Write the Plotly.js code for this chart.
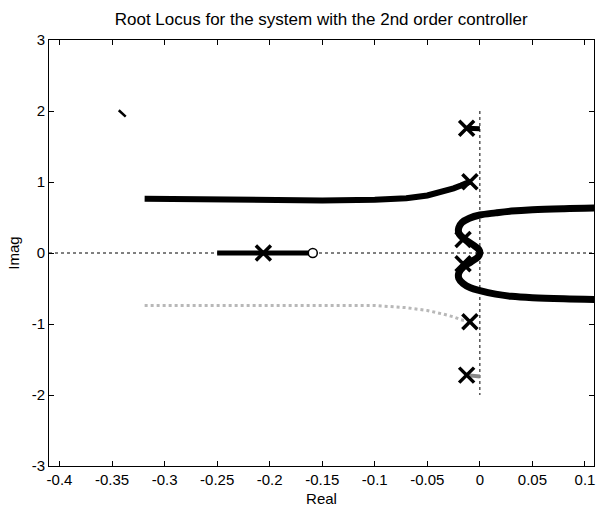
<!DOCTYPE html>
<html>
<head>
<meta charset="utf-8">
<script src="https://cdn.plot.ly/plotly-3.0.1.min.js"></script>
<style>html,body{margin:0;padding:0;background:#fff;}#chart{width:606px;height:507px;}</style>
</head>
<body>
<div id="chart"></div>
<script>
// ---- data ----
var titleText = "Root Locus for the system with the 2nd order controller";
var xTicks = [-0.4, -0.35, -0.3, -0.25, -0.2, -0.15, -0.1, -0.05, 0, 0.05, 0.1];
var xTickLabels = ["-0.4", "-0.35", "-0.3", "-0.25", "-0.2", "-0.15", "-0.1", "-0.05", "0", "0.05", "0.1"];
var yTicks = [-3, -2, -1, 0, 1, 2, 3];
var yTickLabels = ["-3", "-2", "-1", "0", "1", "2", "3"];

// open-loop poles and zero
var poleRe = [-0.206, -0.0126, -0.0095, -0.016, -0.016, -0.0095, -0.0126];
var poleIm = [0, 1.756, 1.004, 0.19, -0.15, -0.968, -1.72];
var zeroRe = [-0.159];
var zeroIm = [0];

// upper complex branch (black)
var upRe = [-0.319, -0.30, -0.25, -0.20, -0.15, -0.10, -0.07, -0.05, -0.035, -0.025, -0.018, -0.0095];
var upIm = [0.765, 0.76, 0.75, 0.74, 0.74, 0.75, 0.77, 0.81, 0.86, 0.91, 0.95, 1.004];
// lower complex branch (grey)
var loRe = [-0.319, -0.30, -0.25, -0.20, -0.15, -0.10, -0.07, -0.05, -0.035, -0.025, -0.018, -0.0095];
var loIm = [-0.74, -0.74, -0.735, -0.73, -0.73, -0.74, -0.77, -0.81, -0.86, -0.90, -0.94, -0.968];
// real-axis segment
var realRe = [-0.250, -0.159];
var realIm = [0, 0];
// S-shaped branch near the imaginary axis
var sRe = [0.115, 0.08, 0.05, 0.03, 0.015, 0.0, -0.01, -0.017, -0.02, -0.02, -0.015, -0.007, -0.001, 0.0, -0.002, -0.009, -0.016, -0.02, -0.02, -0.016, -0.009, 0.0, 0.015, 0.03, 0.05, 0.08, 0.115];
var sIm = [0.635, 0.625, 0.61, 0.59, 0.565, 0.535, 0.49, 0.43, 0.36, 0.28, 0.2, 0.12, 0.05, 0.0, -0.06, -0.13, -0.2, -0.28, -0.36, -0.43, -0.49, -0.53, -0.58, -0.61, -0.63, -0.645, -0.655];
// short branches leaving the poles at +/-1.75j
var fUpRe = [-0.0126, 0.0];
var fUpIm = [1.756, 1.75];
var fLoRe = [-0.0126, 0.0];
var fLoIm = [-1.72, -1.74];
// stray mark top-left
var strayRe = [-0.3436, -0.337];
var strayIm = [2.01, 1.92];
// dotted axes lines
var hRe = [-0.41, 0.1086];
var hIm = [0, 0];
var vRe = [0, 0];
var vIm = [2, -2];

var traces = [
  {x: hRe, y: hIm, mode: 'lines', line: {color: '#000', width: 1, dash: 'dot'}},
  {x: vRe, y: vIm, mode: 'lines', line: {color: '#000', width: 1, dash: 'dot'}},
  {x: loRe, y: loIm, mode: 'lines', line: {color: '#b8b8b8', width: 3, dash: 'dot'}},
  {x: fLoRe, y: fLoIm, mode: 'lines', line: {color: '#888', width: 4}},
  {x: upRe, y: upIm, mode: 'lines', line: {color: '#000', width: 6}},
  {x: realRe, y: realIm, mode: 'lines', line: {color: '#000', width: 5}},
  {x: sRe, y: sIm, mode: 'lines', line: {color: '#000', width: 7, shape: 'spline'}},
  {x: fUpRe, y: fUpIm, mode: 'lines', line: {color: '#000', width: 5}},
  {x: strayRe, y: strayIm, mode: 'lines', line: {color: '#000', width: 2.5}},
  {x: poleRe, y: poleIm, mode: 'markers', marker: {symbol: 'x-thin-open', size: 15, color: '#000', line: {color: '#000', width: 3.5}}},
  {x: zeroRe, y: zeroIm, mode: 'markers', marker: {symbol: 'circle', size: 9, color: '#fff', line: {color: '#000', width: 1.5}}}
];

var font = {family: 'Liberation Sans, Arial, sans-serif', size: 15, color: '#000'};
var layout = {
  width: 606, height: 507,
  margin: {l: 49, r: 12, t: 40, b: 41},
  paper_bgcolor: '#fff', plot_bgcolor: '#fff',
  showlegend: false,
  font: font,
  title: {text: titleText, font: {family: 'Liberation Sans, Arial, sans-serif', size: 17, color: '#000'}, x: 0.53, xanchor: 'center', y: 0.962, yanchor: 'middle'},
  xaxis: {
    range: [-0.41, 0.1086], tickvals: xTicks, ticktext: xTickLabels,
    ticks: 'inside', ticklen: 5, tickwidth: 1, tickcolor: '#000',
    showline: true, linecolor: '#000', linewidth: 1, mirror: 'ticks',
    showgrid: false, zeroline: false, tickfont: font,
    title: {text: 'Real', font: font, standoff: 8},
    automargin: false
  },
  yaxis: {
    range: [-3, 3], tickvals: yTicks, ticktext: yTickLabels,
    ticks: 'inside', ticklen: 5, tickwidth: 1, tickcolor: '#000',
    showline: true, linecolor: '#000', linewidth: 1, mirror: 'ticks',
    showgrid: false, zeroline: false, tickfont: font,
    title: {text: 'Imag', font: font, standoff: 8},
    automargin: false
  }
};
Plotly.newPlot('chart', traces, layout, {displayModeBar: false, staticPlot: true});
</script>
</body>
</html>
